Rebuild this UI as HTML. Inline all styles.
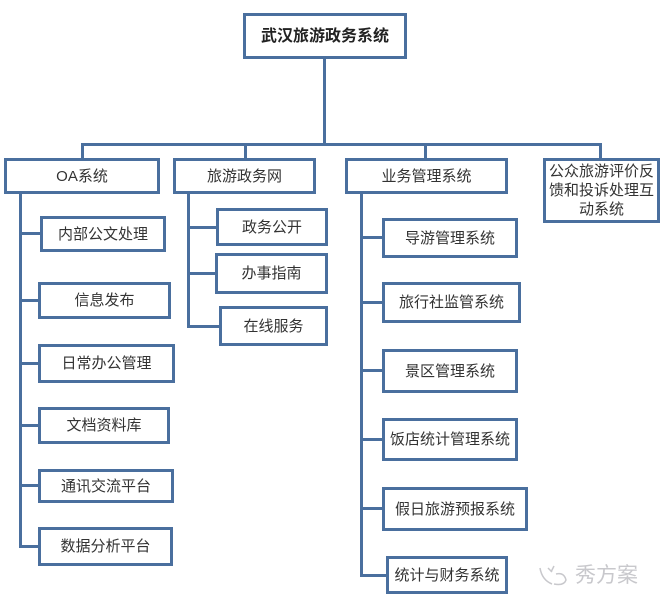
<!DOCTYPE html>
<html><head><meta charset="utf-8"><style>
body{margin:0;width:663px;height:606px;background:#fff;position:relative;overflow:hidden;font-family:"Liberation Sans","Noto Sans CJK SC",sans-serif;}
.b{position:absolute;box-sizing:border-box;border:3px solid #4a6f9e;background:#fff;display:flex;align-items:center;justify-content:center;text-align:center;color:#333;font-size:15px;line-height:19px;}
.l{position:absolute;background:#4a6f9e;}
</style></head><body>
<!-- lines -->
<div class="l" style="left:323px;top:58px;width:3px;height:88px"></div>
<div class="l" style="left:81px;top:143px;width:521px;height:3px"></div>
<div class="l" style="left:81px;top:143px;width:3px;height:16px"></div>
<div class="l" style="left:244px;top:143px;width:3px;height:16px"></div>
<div class="l" style="left:424px;top:143px;width:3px;height:16px"></div>
<div class="l" style="left:599px;top:143px;width:3px;height:16px"></div>
<!-- OA spine -->
<div class="l" style="left:19px;top:192px;width:3px;height:356px"></div>
<div class="l" style="left:19px;top:232px;width:22px;height:3px"></div>
<div class="l" style="left:19px;top:299px;width:20px;height:3px"></div>
<div class="l" style="left:19px;top:362px;width:20px;height:3px"></div>
<div class="l" style="left:19px;top:424px;width:20px;height:3px"></div>
<div class="l" style="left:19px;top:484px;width:20px;height:3px"></div>
<div class="l" style="left:19px;top:545px;width:20px;height:3px"></div>
<!-- 政务网 spine -->
<div class="l" style="left:187px;top:192px;width:3px;height:136px"></div>
<div class="l" style="left:187px;top:226px;width:30px;height:3px"></div>
<div class="l" style="left:187px;top:272px;width:30px;height:3px"></div>
<div class="l" style="left:187px;top:325px;width:33px;height:3px"></div>
<!-- 业务 spine -->
<div class="l" style="left:360px;top:192px;width:3px;height:385px"></div>
<div class="l" style="left:360px;top:236px;width:23px;height:3px"></div>
<div class="l" style="left:360px;top:301px;width:23px;height:3px"></div>
<div class="l" style="left:360px;top:369px;width:23px;height:3px"></div>
<div class="l" style="left:360px;top:438px;width:23px;height:3px"></div>
<div class="l" style="left:360px;top:507px;width:23px;height:3px"></div>
<div class="l" style="left:360px;top:574px;width:27px;height:3px"></div>
<!-- boxes -->
<div class="b" style="left:243px;top:13px;width:164px;height:46px;font-weight:bold;font-size:16px;color:#222">武汉旅游政务系统</div>
<div class="b" style="left:4px;top:158px;width:156px;height:36px">OA系统</div>
<div class="b" style="left:173px;top:158px;width:143px;height:36px">旅游政务网</div>
<div class="b" style="left:345px;top:158px;width:163px;height:36px">业务管理系统</div>
<div class="b" style="left:543px;top:158px;width:117px;height:65px">公众旅游评价反馈和投诉处理互动系统</div>

<div class="b" style="left:40px;top:216px;width:126px;height:36px">内部公文处理</div>
<div class="b" style="left:38px;top:282px;width:133px;height:37px">信息发布</div>
<div class="b" style="left:38px;top:344px;width:137px;height:39px">日常办公管理</div>
<div class="b" style="left:38px;top:407px;width:132px;height:37px">文档资料库</div>
<div class="b" style="left:38px;top:469px;width:136px;height:34px">通讯交流平台</div>
<div class="b" style="left:38px;top:527px;width:135px;height:39px">数据分析平台</div>

<div class="b" style="left:216px;top:208px;width:112px;height:38px">政务公开</div>
<div class="b" style="left:215px;top:253px;width:113px;height:41px">办事指南</div>
<div class="b" style="left:219px;top:306px;width:109px;height:40px">在线服务</div>

<div class="b" style="left:382px;top:218px;width:136px;height:40px">导游管理系统</div>
<div class="b" style="left:382px;top:282px;width:139px;height:41px">旅行社监管系统</div>
<div class="b" style="left:382px;top:349px;width:136px;height:44px">景区管理系统</div>
<div class="b" style="left:382px;top:418px;width:136px;height:43px">饭店统计管理系统</div>
<div class="b" style="left:382px;top:487px;width:146px;height:44px">假日旅游预报系统</div>
<div class="b" style="left:386px;top:556px;width:122px;height:38px">统计与财务系统</div>

<!-- watermark -->
<svg style="position:absolute;left:536px;top:562px" width="36" height="26"><g fill="none" stroke="#c8c8cc" stroke-width="1.5"><path d="M4 6 Q6 18 16 22"/><path d="M12 6 l4 4 M18 4 l-3 6"/><path d="M20 12 Q28 10 30 18 Q28 24 18 22"/></g></svg>
<div style="position:absolute;left:575px;top:561px;font-size:21px;color:#c8c8cc;font-family:'Noto Sans CJK SC',sans-serif;line-height:26px">秀方案</div>
</body></html>
